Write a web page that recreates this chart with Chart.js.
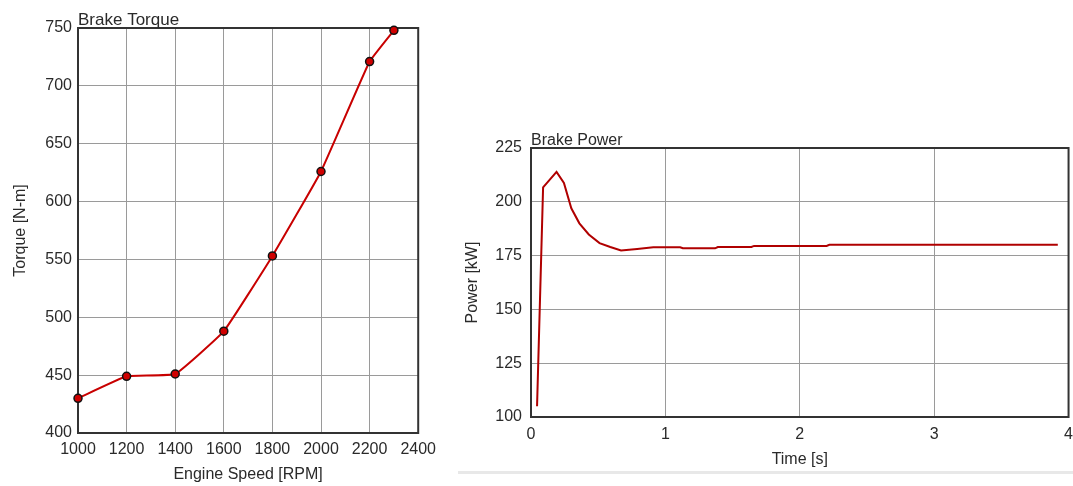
<!DOCTYPE html>
<html>
<head>
<meta charset="utf-8">
<script src="https://cdn.jsdelivr.net/npm/chart.js@4.4.1/dist/chart.umd.min.js"></script>
<style>
  html, body { margin: 0; padding: 0; background: #fff; }
  body { width: 1073px; height: 486px; position: relative; overflow: hidden; }
  #torqueChart { position: absolute; left: 0; top: 0; }
  #powerChart { position: absolute; left: 440px; top: 0; }
  .sep { position: absolute; left: 458px; top: 471px; width: 615px; height: 3px; background: #e8e8e8; }
</style>
</head>
<body>
<canvas id="torqueChart" width="443" height="486"></canvas>
<canvas id="powerChart" width="641" height="486"></canvas>
<div class="sep"></div>
<script>
// ---- data ----
const torqueSpeed = [1000, 1200, 1400, 1600, 1800, 2000, 2200, 2300];
const torqueValues = [430, 449, 451, 488, 553, 626, 721, 748];

const powerTime = [0.045, 0.09, 0.19, 0.245, 0.3, 0.36, 0.43, 0.51, 0.59, 0.67, 0.79, 0.91,
    1.11, 1.13, 1.37, 1.39, 1.64, 1.66, 2.2, 2.22, 3.92];
const powerValues = [105, 206.7, 213.9, 208.8, 197, 190, 184.8, 180.8, 179, 177.4, 178.1, 178.9,
    178.9, 178.4, 178.4, 179, 179, 179.5, 179.5, 180, 180];

const FONT = '"Liberation Sans", Arial, sans-serif';
const TEXT = '#2a2a2a';

// frame round the plot area + small title above its top-left corner
const framePlugin = {
    id: 'frame',
    beforeDatasetsDraw(chart, args, opts) {
        const {ctx, chartArea: a} = chart;
        ctx.save();
        ctx.strokeStyle = '#333';
        ctx.lineWidth = 2;
        ctx.strokeRect(a.left, a.top, a.right - a.left, a.bottom - a.top);
        ctx.fillStyle = TEXT;
        ctx.font = opts.size + 'px ' + FONT;
        ctx.textBaseline = 'alphabetic';
        ctx.textAlign = 'left';
        ctx.fillText(opts.text, a.left, a.top - 3);
        ctx.restore();
    }
};

function axes(cfg) {
    return {
        x: {
            type: 'linear',
            min: cfg.xMin, max: cfg.xMax,
            afterFit: s => { s.height = cfg.xHeight; },
            afterBuildTicks: s => { s.ticks = cfg.xTicks.map(v => ({value: v})); },
            grid: {color: '#9a9a9a', lineWidth: 1, drawTicks: false},
            border: {display: false},
            ticks: {color: TEXT, font: {family: FONT, size: 16}, padding: cfg.xPad, maxRotation: 0,
                callback: v => String(v)},
            title: {display: true, text: cfg.xTitle, color: TEXT, font: {family: FONT, size: 16},
                padding: {top: 4, bottom: 2}}
        },
        y: {
            type: 'linear',
            min: cfg.yMin, max: cfg.yMax,
            afterFit: s => { s.width = cfg.yWidth; },
            afterBuildTicks: s => { s.ticks = cfg.yTicks.map(v => ({value: v})); },
            grid: {color: '#9a9a9a', lineWidth: 1, drawTicks: false},
            border: {display: false},
            ticks: {color: TEXT, font: {family: FONT, size: 16}, padding: cfg.yPad,
                callback: v => String(v)},
            title: {display: true, text: cfg.yTitle, color: TEXT, font: {family: FONT, size: 16}}
        }
    };
}

new Chart(document.getElementById('torqueChart'), {
    type: 'line',
    data: {
        datasets: [{
            data: torqueSpeed.map((x, i) => ({x: x, y: torqueValues[i]})),
            borderColor: '#c80000',
            borderWidth: 2,
            tension: 0.1,
            pointRadius: 4,
            pointBackgroundColor: '#d00000',
            pointBorderColor: '#111',
            pointBorderWidth: 1.5,
            clip: false
        }]
    },
    options: {
        responsive: false,
        animation: false,
        layout: {padding: {left: 7, right: 22, top: 28, bottom: 0}},
        plugins: {legend: {display: false}, tooltip: {enabled: false}, frame: {text: 'Brake Torque', size: 17}},
        scales: axes({
            xMin: 1000, xMax: 2400, xTicks: [1000, 1200, 1400, 1600, 1800, 2000, 2200, 2400],
            xTitle: 'Engine Speed [RPM]', xHeight: 53, xPad: 7,
            yMin: 400, yMax: 750, yTicks: [400, 450, 500, 550, 600, 650, 700, 750],
            yTitle: 'Torque [N-m]', yWidth: 71, yPad: 6
        })
    },
    plugins: [framePlugin]
});

new Chart(document.getElementById('powerChart'), {
    type: 'line',
    data: {
        datasets: [{
            data: powerTime.map((x, i) => ({x: x, y: powerValues[i]})),
            borderColor: '#b00000',
            borderWidth: 2,
            pointRadius: 0,
            clip: false
        }]
    },
    options: {
        responsive: false,
        animation: false,
        layout: {padding: {left: 19, right: 0, top: 148, bottom: 15}},
        plugins: {legend: {display: false}, tooltip: {enabled: false}, frame: {text: 'Brake Power', size: 16}},
        scales: axes({
            xMin: 0, xMax: 4, xTicks: [0, 1, 2, 3, 4],
            xTitle: 'Time [s]', xHeight: 54, xPad: 8,
            yMin: 100, yMax: 225, yTicks: [100, 125, 150, 175, 200, 225],
            yTitle: 'Power [kW]', yWidth: 72, yPad: 9
        })
    },
    plugins: [framePlugin]
});
</script>
</body>
</html>
